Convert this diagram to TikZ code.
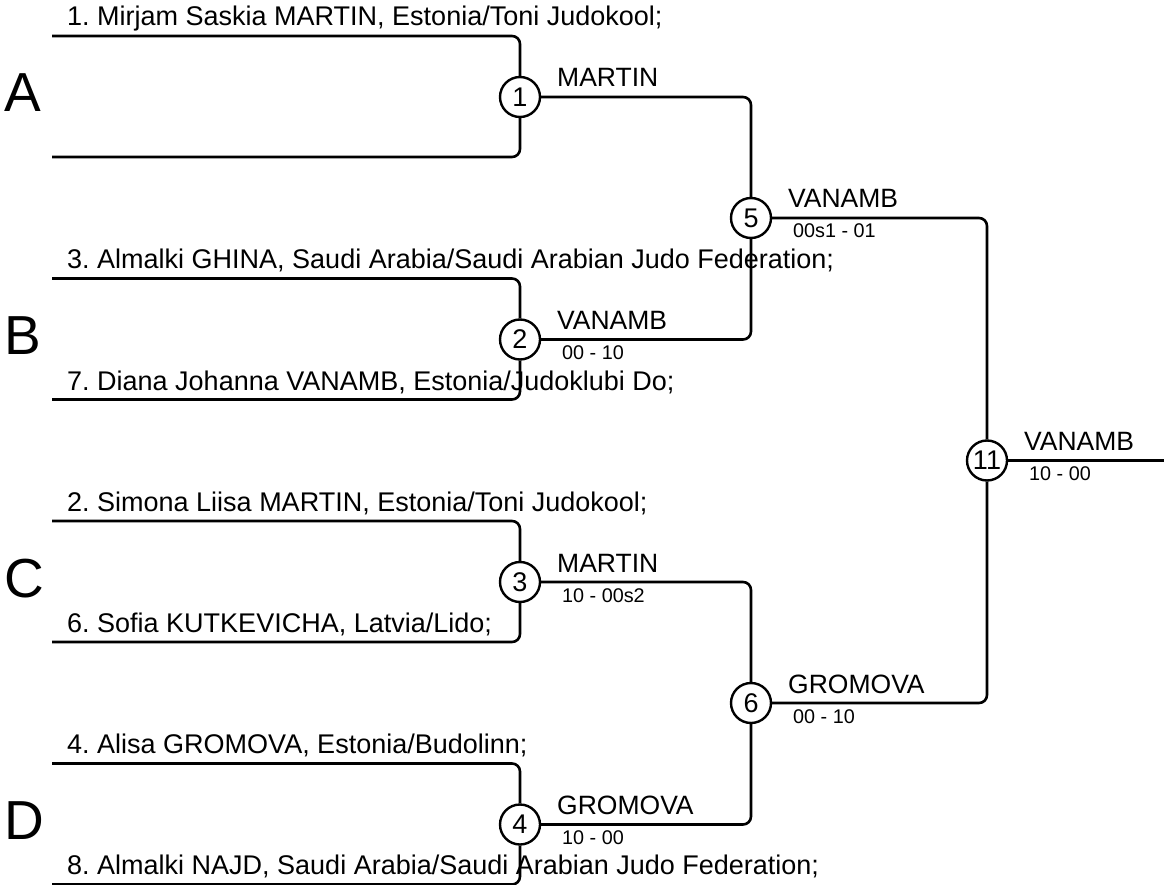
\documentclass[tikz,border=0pt]{standalone}
\usepackage{fontspec}
\setmainfont{Liberation Sans}
\usetikzlibrary{positioning}
\frenchspacing

\begin{document}
\begin{tikzpicture}[x=1pt,y=-1pt]
  \tikzset{bout/.style = {shape=circle,draw,line width=2.4pt,minimum size=40pt,inner sep=0pt,font=\fontsize{27}{27}\selectfont}}
  \tikzset{wire/.style = {line width=2.6pt,rounded corners=8pt}}
  \tikzset{player/.style = {anchor=base west,inner sep=0pt,font=\fontsize{27}{30}\selectfont}}
  \tikzset{winner/.style = {anchor=base west,inner sep=0pt,font=\fontsize{26.5}{30}\selectfont}}
  \tikzset{score/.style = {anchor=base west,inner sep=0pt,font=\fontsize{19.8}{22}\selectfont}}
  \tikzset{pool/.style = {anchor=base west,inner sep=0pt,font=\fontsize{55}{60}\selectfont}}

  \useasboundingbox (0,0) rectangle (1164,885);

	% first round
	\node[bout] (M1) at (520,97) {1};
	\node[bout] (M2) at (520,339.5) {2};
	\node[bout] (M3) at (520,582) {3};
	\node[bout] (M4) at (520,824.5) {4};
	% semifinals and final
	\node[bout] (M5) at (751,218) {5};
	\node[bout] (M6) at (751,703) {6};
	\node[bout] (M11) at (987,460.5) {11};
	\coordinate (W) at (1164,460.5);

	\node[pool] (A) at (4,112) {A};
	\node[pool] (B) at (4,354.5) {B};
	\node[pool] (C) at (4,597) {C};
	\node[pool] (D) at (4,839.5) {D};

	\node[player] (P1) at (67,26) {1. Mirjam Saskia MARTIN, Estonia/Toni Judokool;};
	\node[player] (P3) at (67,268.5) {3. Almalki GHINA, Saudi Arabia/Saudi Arabian Judo Federation;};
	\node[player] (P7) at (67,390) {7. Diana Johanna VANAMB, Estonia/Judoklubi Do;};
	\node[player] (P2) at (67,511) {2. Simona Liisa MARTIN, Estonia/Toni Judokool;};
	\node[player] (P6) at (67,632) {6. Sofia KUTKEVICHA, Latvia/Lido;};
	\node[player] (P4) at (67,753.5) {4. Alisa GROMOVA, Estonia/Budolinn;};
	\node[player] (P8) at (67,874.5) {8. Almalki NAJD, Saudi Arabia/Saudi Arabian Judo Federation;};

    \foreach \m/\y in {1/0, 2/242.5, 3/485, 4/727.5} {
    \coordinate (T\m) at (52,36+\y);
    \coordinate (U\m) at (52,157+\y);
    \draw[wire] (T\m) -| (M\m);
    \draw[wire] (U\m) -| (M\m);
    }

    \foreach \from/\to in {M1/M5, M2/M5, M3/M6, M4/M6, M5/M11, M6/M11}
    \draw[wire] (\from) -| (\to);
    \draw[wire] (M11) -- (W);

    \foreach \m/\w/\s in {1/MARTIN/, 2/VANAMB/00 - 10, 3/MARTIN/10 - 00s2, 4/GROMOVA/10 - 00, 5/VANAMB/00s1 - 01, 6/GROMOVA/00 - 10, 11/VANAMB/10 - 00} {
    \node[winner] (N\m) at ([shift={(37,-10)}]M\m.center) {\w};
    \node[score] (S\m) at ([shift={(42,20)}]M\m.center) {\s};
    }

\end{tikzpicture}
\end{document}
